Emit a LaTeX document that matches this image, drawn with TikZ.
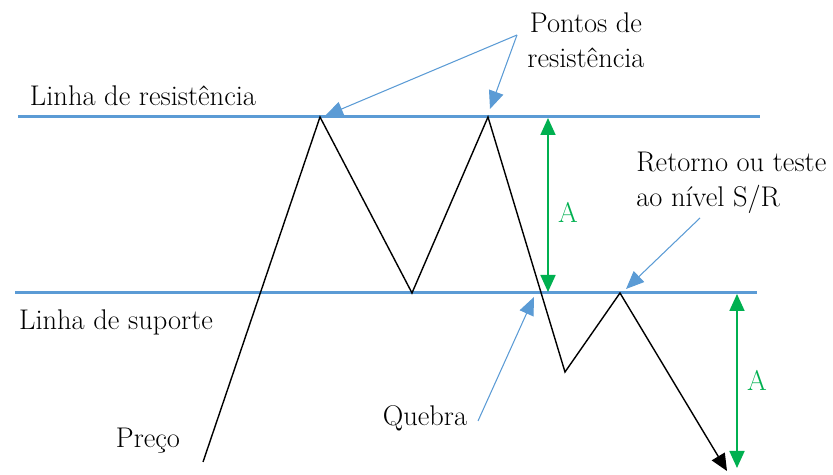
\documentclass[tikz,border=0pt]{standalone}
\usetikzlibrary{positioning,arrows.meta,calc}
\definecolor{lineblue}{HTML}{5B9BD5}
\definecolor{spangreen}{HTML}{00B050}

\begin{document}
\begin{tikzpicture}[x=0.02cm,y=-0.02cm,
      lbl/.style={font=\fontsize{16.2}{20}\selectfont,inner sep=0pt,align=center},
      lvl/.style={lineblue,line width=1.7pt},
      price/.style={black,line width=0.8pt},
      callout/.style={lineblue,line width=0.6pt,-{Triangle[length=0.36cm,width=0.3cm]}},
      span/.style={spangreen,line width=1pt,{Triangle[length=0.34cm,width=0.3cm]}-{Triangle[length=0.34cm,width=0.3cm]}}]
    \useasboundingbox (0,0) rectangle (833,475);
    % resistance and support levels
    \coordinate (resL) at (18,117);  \coordinate (resR) at (760,117);
    \coordinate (supL) at (15,293);  \coordinate (supR) at (757,293);
    \draw[lvl] (resL) -- (resR);
    \draw[lvl] (supL) -- (supR);
    % price path
    \foreach \n/\x/\y in {p0/203/462,p1/320/117,p2/412/293,p3/488/117,p4/565/372,p5/620/293,p6/727/471}
      \coordinate (\n) at (\x,\y);
    \draw[price,line join=miter,-{Triangle[length=0.34cm,width=0.3cm]}]
      (p0) -- (p1) -- (p2) -- (p3) -- (p4) -- (p5) -- (p6);
    % labels
    \node[lbl] (resname) at (143,96) {Linha de resistência};
    \node[lbl] (supname) at (116,322) {Linha de suporte};
    \node[lbl] (preco) at (148,441) {Preço};
    \node[lbl] (quebra) at (425,418) {Quebra};
    \node[lbl] (pontos) at (586,40) {Pontos de\\resistência};
    \node[lbl,align=left,anchor=west] (retorno) at (636,183) {Retorno ou teste\\ao nível S/R};
    % callouts
    \coordinate (pt) at (517,35);
    \coordinate (rt) at (700,218);
    \coordinate (qt) at (478,421);
    \draw[callout] (pt) -- (325,116);
    \draw[callout] (pt) -- (490,109);
    \draw[callout] (rt) -- (626,289);
    \draw[callout] (qt) -- (534,297);
    % height of the pattern
    \coordinate (a1t) at (548,118); \coordinate (a1b) at (548,292);
    \coordinate (a2t) at (737,294); \coordinate (a2b) at (737,468);
    \draw[span] (a1t) -- (a1b);
    \draw[span] (a2t) -- (a2b);
    \node[lbl,text=spangreen] (hA) at (568,212) {A};
    \node[lbl,text=spangreen] (hB) at (757,380) {A};
  \end{tikzpicture}
\end{document}
